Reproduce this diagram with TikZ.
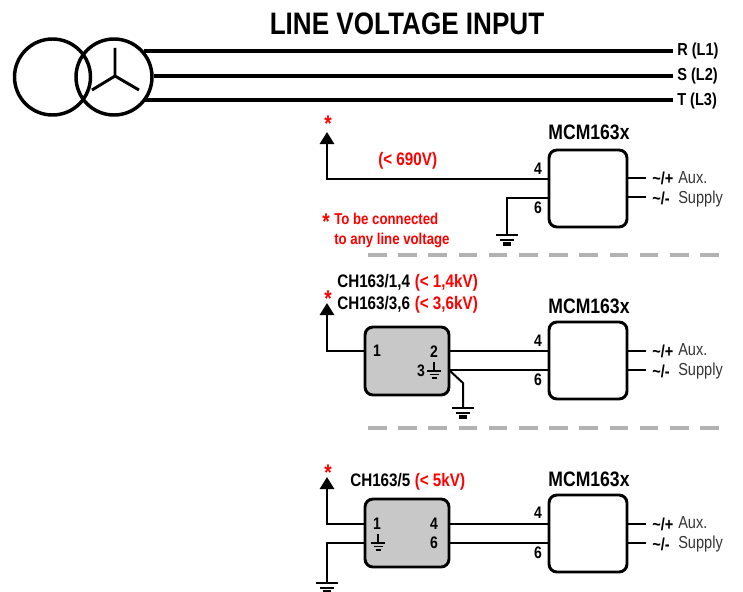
\documentclass[tikz,border=0pt]{standalone}
\usepackage{fontspec}
\setmainfont[FakeStretch=0.84]{Liberation Sans}
\usetikzlibrary{arrows.meta}
\definecolor{redtxt}{RGB}{255,0,0}
\definecolor{dashgray}{RGB}{178,178,178}
\definecolor{boxgray}{RGB}{200,200,200}
\tikzset{
  x=0.75pt,y=-0.75pt,
  wire/.style={line width=2.1pt,line join=miter},
  phase/.style={line width=3pt},
  module/.style={draw=black,line width=2.2pt,outer sep=0pt,rounded corners=6pt,fill=white,inner sep=0pt,anchor=north west},
  chbox/.style={module,fill=boxgray},
  lbl/.style={font=\bfseries\fontsize{13}{14}\selectfont,inner sep=0pt,anchor=base west},
  clbl/.style={lbl,font=\bfseries\fontsize{13.6}{14}\selectfont},
  num/.style={font=\bfseries\fontsize{12.5}{14}\selectfont,inner sep=0pt,anchor=base},
  redl/.style={clbl,text=redtxt},
  notel/.style={redl,font=\bfseries\fontsize{11.8}{14}\selectfont},
  auxl/.style={font=\fontsize{13}{15}\selectfont,text=black!80,inner sep=0pt,anchor=base west},
  mcm/.style={font=\bfseries\fontsize{15.7}{17}\selectfont,inner sep=0pt,anchor=base},
  star/.style={font=\bfseries\fontsize{17}{18}\selectfont,text=redtxt,inner sep=0pt,anchor=base},
  sep/.style={draw=dashgray,line width=3pt,dash pattern=on 14pt off 8.65pt},
  up/.style={wire,-{Triangle[width=10.5pt,length=9pt]}},
  gnd/.pic={
    \draw[line width=2.1pt] (0,-12) -- (0,0);
    \draw[line width=2.2pt] (-11,0) -- (11,0);
    \draw[line width=2.2pt] (-7,5) -- (7,5);
    \draw[line width=2.4pt] (-4,9) -- (4,9);
  },
  smallgnd/.pic={
    \draw[line width=1.2pt] (0,-9) -- (0,0);
    \draw[line width=1.2pt] (-7,0) -- (7,0);
    \draw[line width=1.2pt] (-4.5,3.5) -- (4.5,3.5);
    \draw[line width=1.2pt] (-2.5,7) -- (2.5,7);
  },
}
\begin{document}
\begin{tikzpicture}
\useasboundingbox (0,0) rectangle (743,592);
% title
\node[font=\bfseries\fontsize{23.3}{26}\selectfont,inner sep=0pt,anchor=base] (title) at (407,35) {LINE VOLTAGE INPUT};
% transformer
\node[draw=black,line width=2.6pt,circle,minimum size=57pt,inner sep=0pt] (tl) at (52.5,77) {};
\node[draw=black,line width=2.6pt,circle,minimum size=57pt,inner sep=0pt] (tr) at (114,77) {};
\coordinate (star) at (115,76);
\coordinate (sa) at (115,48);
\coordinate (sb) at (92,90);
\coordinate (sc) at (139,90);
\draw[line width=2.2pt] (sa) -- (star) (sb) -- (star) -- (sc);
% phases
\coordinate (p1) at (144,51); \coordinate (q1) at (673,51);
\coordinate (p2) at (154,76); \coordinate (q2) at (673,76);
\coordinate (p3) at (144,100); \coordinate (q3) at (673,100);
\draw[phase] (p1) -- (q1);
\draw[phase] (p2) -- (q2);
\draw[phase] (p3) -- (q3);
\node[lbl] (r) at (677,56) {R (L1)};
\node[lbl] (s) at (677,81) {S (L2)};
\node[lbl] (t) at (677,106) {T (L3)};

% ---------- panel A
\node[mcm] (ma) at (589,140) {MCM163x};
\node[module,minimum width=58.5pt,minimum height=57.75pt] (ba) at (549,150) {};
\coordinate (atip) at (327,132);
\coordinate (ac) at (327,179);
\coordinate (ag) at (507,198);
\coordinate (agb) at (507,235);
\draw[up] (ac -| ba.west) -- (ac) -- (atip);
\draw[wire] (ag -| ba.west) -- (ag) -- (agb);
\pic at (agb) {gnd};
\node[star] (as) at (328,132) {*};
\node[redl] (a690) at (378,166) {(< 690V)};
\node[num] (a4) at (538,174) {4};
\node[num] (a6) at (538,213) {6};
\node[star] (ns) at (326,229) {*};
\node[notel] (n1) at (334,224) {To be connected};
\node[notel] (n2) at (334,244.5) {to any line voltage};
\coordinate (ax1) at (646,178); \coordinate (ax2) at (646,197);
\draw[wire] (ax1 -| ba.east) -- (ax1);
\draw[wire] (ax2 -| ba.east) -- (ax2);
\node[lbl] (ap) at (652,184) {\textasciitilde/+};
\node[lbl] (am) at (652,204) {\textasciitilde/-};
\node[auxl] (aa) at (678,183) {Aux.};
\node[auxl] (ai) at (678,203) {Supply};
\coordinate (d1a) at (368,255); \coordinate (d1b) at (720,255);
\draw[sep] (d1a) -- (d1b);

% ---------- panel B
\node[mcm] (mb) at (589,313) {MCM163x};
\node[module,minimum width=58.5pt,minimum height=57.75pt] (bb) at (549,322) {};
\node[chbox,minimum width=63pt,minimum height=51pt] (cb) at (365,327) {};
\coordinate (btip) at (327,303);
\coordinate (bc) at (327,351);
\draw[up] (bc -| cb.west) -- (bc) -- (btip);
\coordinate (bl4) at (449,351);
\coordinate (bl6) at (449,370);
\draw[wire] (bl4) -- (bl4 -| bb.west);
\draw[wire] (bl6) -- (bl6 -| bb.west);
\coordinate (bk) at (463,383);
\coordinate (bg) at (463,408);
\draw[line width=1.5pt] (bl6) -- (bk) -- (bg);
\pic at (bg) {gnd};
\node[star] (bs) at (328,306) {*};
\node[clbl] (bt1) at (337,287) {CH163/1,4};
\node[redl] (br1) at (414.5,287) {(< 1,4kV)};
\node[clbl] (bt2) at (337,309) {CH163/3,6};
\node[redl] (br2) at (414.5,309) {(< 3,6kV)};
\node[num] (b1) at (377,356) {1};
\node[num] (b2) at (434,357) {2};
\node[num] (b3) at (421,376) {3};
\pic at (434,371) {smallgnd};
\node[num] (b4) at (538,346) {4};
\node[num] (b6) at (538,385) {6};
\coordinate (bx1) at (646,351); \coordinate (bx2) at (646,370);
\draw[wire] (bx1 -| bb.east) -- (bx1);
\draw[wire] (bx2 -| bb.east) -- (bx2);
\node[lbl] (bp) at (652,357) {\textasciitilde/+};
\node[lbl] (bm) at (652,377) {\textasciitilde/-};
\node[auxl] (ba2) at (678,355) {Aux.};
\node[auxl] (bi) at (678,375) {Supply};
\coordinate (d2a) at (368,428); \coordinate (d2b) at (720,428);
\draw[sep] (d2a) -- (d2b);

% ---------- panel C
\node[mcm] (mc) at (589,486) {MCM163x};
\node[module,minimum width=58.5pt,minimum height=57.75pt] (bc2) at (549,495) {};
\node[chbox,minimum width=63pt,minimum height=51pt] (cc) at (365,499) {};
\coordinate (ctip) at (327,477);
\coordinate (cc1) at (327,524);
\coordinate (cc2) at (327,543);
\coordinate (cgb) at (327,583);
\draw[up] (cc1 -| cc.west) -- (cc1) -- (ctip);
\draw[wire] (cc2 -| cc.west) -- (cc2) -- (cgb);
\pic at (cgb) {gnd};
\coordinate (cl4) at (449,524);
\coordinate (cl6) at (449,543);
\draw[wire] (cl4) -- (cl4 -| bc2.west);
\draw[wire] (cl6) -- (cl6 -| bc2.west);
\node[star] (cs) at (328,480) {*};
\node[clbl] (ct) at (350,486) {CH163/5};
\node[redl] (cr) at (414.5,486) {(< 5kV)};
\node[num] (c1) at (377,529) {1};
\pic at (378,543) {smallgnd};
\node[num] (c4) at (434,529) {4};
\node[num] (c5) at (434,548) {6};
\node[num] (c6) at (538,518) {4};
\node[num] (c7) at (538,558) {6};
\coordinate (cx1) at (646,524); \coordinate (cx2) at (646,543);
\draw[wire] (cx1 -| bc2.east) -- (cx1);
\draw[wire] (cx2 -| bc2.east) -- (cx2);
\node[lbl] (cp) at (652,530) {\textasciitilde/+};
\node[lbl] (cm) at (652,550) {\textasciitilde/-};
\node[auxl] (ca) at (678,528) {Aux.};
\node[auxl] (ci) at (678,548) {Supply};
\end{tikzpicture}
\end{document}
